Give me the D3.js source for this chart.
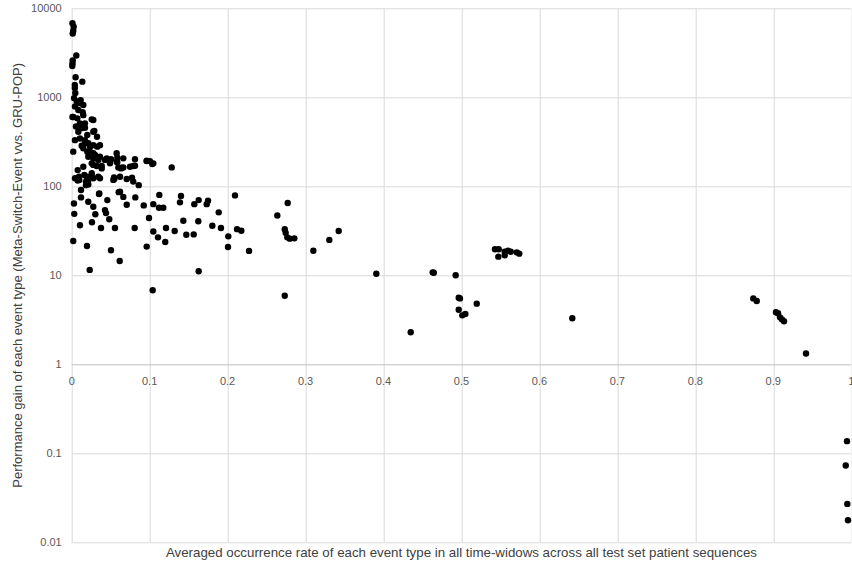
<!DOCTYPE html>
<html>
<head>
<meta charset="utf-8">
<style>
  body { margin: 0; background: #fff; }
  svg { display: block; }
  .tick-label { font-family: "Liberation Sans", Arial, sans-serif; font-size: 11px; fill: #595959; }
  .axis-title { font-family: "Liberation Sans", Arial, sans-serif; font-size: 13px; fill: #404040; }
  .axis-title.x-title { font-size: 13.3px; }
</style>
<title>Performance gain vs occurrence rate</title>
</head>
<body>
<script src="https://cdn.jsdelivr.net/npm/d3@7"></script>
<script>

// occurrence rate (x) and performance gain (y) of each event type
var occurrenceRate = [
  0.001, 0.0025, 0.002, 0.0013, 0.0059, 0.0013, 0.001, 0.0008, 0.005, 0.0136,
  0.004, 0.004, 0.0046, 0.003, 0.0064, 0.0106, 0.0042, 0.0149, 0.0085, 0.002,
  0.0072, 0.0149, 0.0277, 0.0106, 0.017, 0.0055, 0.0128, 0.0085, 0.0277, 0.0042,
  0.0106, 0.017, 0.0213, 0.0277, 0.0363, 0.002, 0.0149, 0.0235, 0.0213, 0.03,
  0.0341, 0.0427, 0.0491, 0.0577, 0.0598, 0.0662, 0.0277, 0.0385, 0.0149, 0.017,
  0.0257, 0.029, 0.02, 0.0325, 0.0128, 0.0577, 0.0662, 0.0812, 0.0962, 0.1034,
  0.1283, 0.0042, 0.0077, 0.0192, 0.0257, 0.0363, 0.0547, 0.0119, 0.0213, 0.0341,
  0.0641, 0.0748, 0.0812, 0.0585, 0.0077, 0.0097, 0.0183, 0.0119, 0.0029, 0.0213,
  0.0277, 0.0033, 0.0303, 0.0106, 0.026, 0.0376, 0.0482, 0.0427, 0.044, 0.035,
  0.0457, 0.0555, 0.002, 0.0196, 0.0504, 0.0231, 0.0616, 0.0534, 0.0632, 0.062,
  0.0706, 0.0774, 0.086, 0.0603, 0.0662, 0.0816, 0.0706, 0.0808, 0.0924, 0.0992,
  0.0962, 0.1047, 0.1047, 0.1124, 0.112, 0.1175, 0.1107, 0.12, 0.121, 0.1039,
  0.0962, 0.1004, 0.1047, 0.1321, 0.1389, 0.1402, 0.1432, 0.147, 0.1565, 0.1573,
  0.1629, 0.1624, 0.1629, 0.1732, 0.1749, 0.1804, 0.1886, 0.1915, 0.2009, 0.2005,
  0.2095, 0.2121, 0.2176, 0.2275, 0.2638, 0.2771, 0.2733, 0.2745, 0.2766, 0.2797,
  0.2856, 0.2733, 0.31, 0.3305, 0.3425, 0.3908, 0.4631, 0.4645, 0.4926, 0.4965,
  0.4981, 0.5196, 0.4965, 0.5011, 0.505, 0.4349, 0.543, 0.5478, 0.5473, 0.5555,
  0.5555, 0.5597, 0.5632, 0.5709, 0.5742, 0.6422, 0.8744, 0.8788, 0.9035, 0.9061,
  0.9087, 0.9112, 0.9138, 0.942, 0.9946, 0.993, 0.995, 0.9959,
  0.0094, 0.0162, 0.0257, 0.0257, 0.0321, 0.0385, 0.0277, 0.0213, 0.0183, 0.0354,
  0.0543, 0.079, 0.062, 0.0585, 0.0504, 0.079, 0.0115, 0.0141, 0.0235, 0.0328,
  0.02, 0.0277, 0.0363, 0.0449, 0.0277, 0.017, 0.001
];

var performanceGain = [
  6800, 6200, 5600, 5200, 2950, 2600, 2400, 2250, 1680, 1500,
  1380, 1270, 1120, 980, 900, 860, 790, 820, 720, 600,
  580, 630, 555, 510, 510, 470, 450, 410, 410, 330,
  345, 330, 305, 290, 290, 245, 268, 245, 215, 225,
  198, 198, 181, 189, 163, 163, 174, 169, 166, 455,
  565, 420, 378, 360, 286, 235, 206, 201, 192, 178,
  163, 123, 116, 128, 130, 123, 121, 91, 105, 128,
  162, 166, 170, 186, 152, 118, 113, 75, 64, 67,
  59, 49, 48.5, 36.5, 39.4, 34, 42.6, 54, 50, 82,
  70, 34, 24.3, 21.3, 19.1, 11.5, 14.5, 118, 159, 128,
  121, 125, 103, 86, 76, 75, 62, 34, 61, 44,
  21, 31, 63, 80, 57.5, 57.5, 26.7, 23.7, 34, 6.8,
  194, 192, 181, 31.5, 66, 78, 41, 28.6, 28.8, 63,
  70, 40.5, 11.1, 63, 69, 36, 51, 34, 27.4, 20.8,
  79, 33, 31.7, 18.8, 47, 65, 33, 30, 26.7, 25.8,
  26, 5.9, 18.9, 25, 31.5, 10.4, 10.8, 10.7, 10, 5.6,
  5.5, 4.8, 4.1, 3.55, 3.67, 2.29, 19.6, 19.6, 16.2, 18.4,
  16.8, 18.9, 18.4, 18.1, 17.5, 3.29, 5.5, 5.15, 3.84, 3.74,
  3.37, 3.2, 3.04, 1.32, 0.137, 0.073, 0.027, 0.0177,
  128, 134, 140, 181, 169, 159, 123, 118, 103, 83,
  126, 169, 87, 210, 201, 113, 930, 680, 279, 279,
  245, 235, 215, 206, 205, 304, 600
];

var xTicks = [0, 0.1, 0.2, 0.3, 0.4, 0.5, 0.6, 0.7, 0.8, 0.9, 1];
var yTicks = [0.01, 0.1, 1, 10, 100, 1000, 10000];

var xTitle = "Averaged occurrence rate of each event type in all time-widows across all test set patient sequences";
var yTitle = "Performance gain of each event type (Meta-Switch-Event vvs. GRU-POP)";

var width = 852,
    height = 565,
    margin = {top: 8.3, right: 0.8, bottom: 22.7, left: 71.7},
    widthInterior = width - margin.left - margin.right,
    heightInterior = height - margin.top - margin.bottom;

var x = d3.scaleLinear().domain([0, 1]).range([0, widthInterior]);
var y = d3.scaleLog().domain([0.01, 10000]).range([heightInterior, 0]);

var svg = d3.select("body").append("svg")
    .attr("width", width)
    .attr("height", height);

var g = svg.append("g")
    .attr("transform", "translate(" + margin.left + "," + margin.top + ")");

// GRID
g.append("g")
  .selectAll("line")
  .data(xTicks)
  .enter().append("line")
    .attr("x1", function(d) { return Math.round(x(d)) + 0.5; })
    .attr("x2", function(d) { return Math.round(x(d)) + 0.5; })
    .attr("y1", 0)
    .attr("y2", heightInterior)
    .attr("stroke", "#d9d9d9");

g.append("g")
  .selectAll("line")
  .data(yTicks)
  .enter().append("line")
    .attr("x1", 0)
    .attr("x2", widthInterior)
    .attr("y1", function(d) { return Math.round(y(d)) + 0.5; })
    .attr("y2", function(d) { return Math.round(y(d)) + 0.5; })
    .attr("stroke", function(d) { return d === 1 ? "#bfbfbf" : "#d9d9d9"; });

// TICK LABELS (x axis crosses at y = 1)
g.append("g")
  .selectAll("text")
  .data(xTicks)
  .enter().append("text")
    .attr("class", "tick-label")
    .attr("x", function(d) { return x(d); })
    .attr("y", y(1) + 21)
    .attr("text-anchor", "middle")
    .text(function(d) { return d3.format("~g")(d); });

g.append("g")
  .selectAll("text")
  .data(yTicks)
  .enter().append("text")
    .attr("class", "tick-label")
    .attr("x", -10)
    .attr("y", function(d) { return y(d) + 4; })
    .attr("text-anchor", "end")
    .text(function(d) { return d3.format("~g")(d); });

// POINTS
var points = d3.range(occurrenceRate.length).map(function(i) {
  return {rate: occurrenceRate[i], gain: performanceGain[i]};
});

g.append("g")
  .selectAll("circle")
  .data(points)
  .enter().append("circle")
    .attr("cx", function(d) { return x(d.rate); })
    .attr("cy", function(d) { return y(d.gain); })
    .attr("r", 3.2)
    .attr("fill", "#000");

// AXIS TITLES
svg.append("text")
    .attr("class", "axis-title x-title")
    .attr("x", margin.left + widthInterior / 2)
    .attr("y", 556.5)
    .attr("text-anchor", "middle")
    .text(xTitle);

svg.append("text")
    .attr("class", "axis-title")
    .attr("transform", "translate(22," + (margin.top + heightInterior / 2) + ") rotate(-90)")
    .attr("text-anchor", "middle")
    .text(yTitle);

</script>
</body>
</html>
